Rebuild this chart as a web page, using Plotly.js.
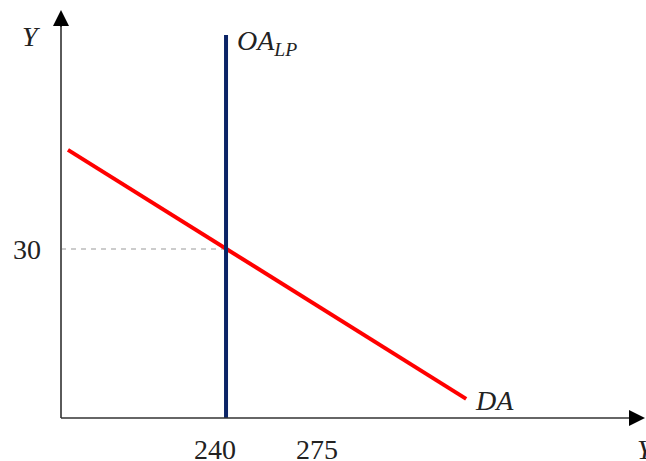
<!DOCTYPE html>
<html>
<head>
<meta charset="utf-8">
<script src="https://cdn.plot.ly/plotly-3.0.1.min.js"></script>
<style>html,body{margin:0;padding:0;background:#fff;}#chart{width:646px;height:461px;}</style>
</head>
<body>
<div id="chart"></div>
<script>
// Data
const daX = [185.5, 322.8];
const daY = [47.6, 3.4];
const oaX = [240, 240];
const oaY = [0, 68];
const eqX = 240;
const eqY = 30;
const xTickVals = [240, 275];
const xTickText = ['240', '275'];
const yTickVals = [30];
const yTickText = ['30'];
const xRange = [183.1, 384.8];
const yRange = [0, 72.43];

const serif = 'Liberation Serif, Times New Roman, serif';
const fs = 28;

const traces = [
  {x: [xRange[0], eqX], y: [eqY, eqY], mode: 'lines', line: {color: '#999999', width: 1.2, dash: '5px,5px'}, hoverinfo: 'skip', showlegend: false},
  {x: daX, y: daY, mode: 'lines', line: {color: '#ff0000', width: 4}, showlegend: false},
  {x: oaX, y: oaY, mode: 'lines', line: {color: '#0b2466', width: 4}, showlegend: false}
];

const annotations = [];
xTickVals.forEach((v, i) => annotations.push({x: v, y: 0, xref: 'x', yref: 'y', text: xTickText[i], showarrow: false, xanchor: 'center', yanchor: 'middle', xshift: -11, yshift: -31, font: {family: serif, size: fs, color: '#222'}}));
yTickVals.forEach((v, i) => annotations.push({x: 0, y: v, xref: 'paper', yref: 'y', text: yTickText[i], showarrow: false, xanchor: 'right', yanchor: 'middle', xshift: -18, font: {family: serif, size: fs, color: '#222'}}));
annotations.push({x: 0, y: 1, xref: 'paper', yref: 'paper', text: '<i>Y</i>', showarrow: false, xanchor: 'center', yanchor: 'middle', xshift: -30, yshift: -26, font: {family: serif, size: fs, color: '#222'}});
annotations.push({x: eqX, y: oaY[1], xref: 'x', yref: 'y', text: '<i>OA<sub>LP</sub></i>', showarrow: false, xanchor: 'left', yanchor: 'middle', xshift: 9, yshift: -8, font: {family: serif, size: fs, color: '#222'}});
annotations.push({x: daX[1], y: daY[1], xref: 'x', yref: 'y', text: '<i>DA</i>', showarrow: false, xanchor: 'left', yanchor: 'middle', xshift: 7, yshift: -2, font: {family: serif, size: fs, color: '#222'}});
annotations.push({x: 1, y: 0, xref: 'paper', yref: 'paper', text: '<i>Y</i>', showarrow: false, xanchor: 'left', yanchor: 'middle', xshift: -11, yshift: -31, font: {family: serif, size: fs, color: '#222'}});
// arrowheads
annotations.push({x: 0, y: 1, xref: 'paper', yref: 'paper', ax: 0, ay: 18, axref: 'pixel', ayref: 'pixel', text: '', showarrow: true, arrowhead: 2, arrowsize: 1.6, arrowwidth: 2, arrowcolor: '#000', standoff: 0});
annotations.push({x: 1, y: 0, xref: 'paper', yref: 'paper', ax: -18, ay: 0, axref: 'pixel', ayref: 'pixel', text: '', showarrow: true, arrowhead: 2, arrowsize: 1.6, arrowwidth: 2, arrowcolor: '#000', standoff: 0});

const layout = {
  width: 646, height: 461,
  margin: {l: 61, r: 0, t: 10, b: 43},
  paper_bgcolor: '#fff', plot_bgcolor: '#fff',
  showlegend: false,
  xaxis: {range: xRange, showgrid: false, zeroline: false, showticklabels: false, ticks: '', showline: false, fixedrange: true},
  yaxis: {range: yRange, showgrid: false, zeroline: false, showticklabels: false, ticks: '', showline: false, fixedrange: true},
  shapes: [
    {type: 'line', xref: 'paper', yref: 'paper', x0: 0, x1: 0, y0: 0, y1: 0.97, line: {color: '#5a5a5a', width: 2}},
    {type: 'line', xref: 'paper', yref: 'paper', x0: 0, x1: 0.98, y0: 0, y1: 0, line: {color: '#333', width: 1.5}}
  ],
  annotations: annotations
};

Plotly.newPlot('chart', traces, layout, {displayModeBar: false, staticPlot: true});
</script>
</body>
</html>
